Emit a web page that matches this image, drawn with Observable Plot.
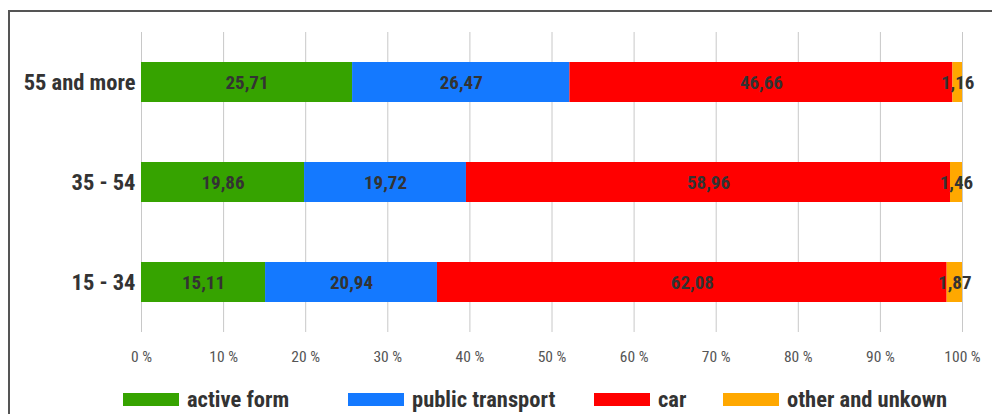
<!DOCTYPE html>
<html><head><meta charset="utf-8">
<script src="https://cdn.jsdelivr.net/npm/d3@7"></script>
<script src="https://cdn.jsdelivr.net/npm/@observablehq/plot@0.6"></script>
<style>
html,body{margin:0;padding:0;background:#fff;}
body{font-family:"Liberation Sans Narrow","Arial Narrow","Roboto Condensed","DejaVu Sans Condensed",sans-serif;width:992px;height:414px;overflow:hidden;position:relative;}
#frame{position:absolute;left:8px;top:10px;width:984px;height:404px;border-left:2px solid #555;border-top:2px solid #555;box-sizing:border-box;}
#chart{position:absolute;left:0;top:0;}
#legend{position:absolute;left:0;top:375px;width:982px;height:24px;}
.item{position:absolute;top:0;display:flex;align-items:center;height:24px;font-weight:bold;font-size:22.5px;color:#333;white-space:nowrap;}
.sw{display:inline-block;width:56px;height:13px;margin-right:8px;}
</style></head><body>
<div id="frame"><div id="chart"></div><div id="legend"></div></div>
<script>
const groups = ["55 and more", "35 - 54", "15 - 34"];
const modes = ["active form", "public transport", "car", "other and unkown"];
const activeForm = [25.71, 19.86, 15.11];
const publicTransport = [26.47, 19.72, 20.94];
const car = [46.66, 58.96, 62.08];
const otherUnknown = [1.16, 1.46, 1.87];
const modeColors = ["#36a300", "#1479ff", "#ff0000", "#ffa800"];
const xTicks = [0, 10, 20, 30, 40, 50, 60, 70, 80, 90, 100];

const series = [activeForm, publicTransport, car, otherUnknown];
const rows = [];
groups.forEach((g, i) => modes.forEach((m, j) => rows.push({group: g, mode: m, value: series[j][i]})));
const fmt = v => v.toFixed(2).replace(".", ",");

const chart = Plot.plot({
  width: 982,
  height: 362,
  marginLeft: 131,
  marginRight: 30,
  marginTop: 20,
  marginBottom: 42,
  style: {fontFamily: "'Liberation Sans Narrow','Arial Narrow','Roboto Condensed','DejaVu Sans Condensed',sans-serif", background: "transparent", overflow: "visible"},
  x: {domain: [0, 100], ticks: xTicks, label: null},
  y: {domain: groups, paddingInner: 0.6, paddingOuter: 0.3, label: null},
  color: {domain: modes, range: modeColors},
  marks: [
    Plot.gridX(xTicks, {stroke: "#c8c8c8", strokeOpacity: 1, strokeWidth: 1}),
    Plot.barX(rows, Plot.stackX({x: "value", y: "group", fill: "mode", z: "mode"})),
    Plot.text(rows, Plot.stackX({x: "value", y: "group", z: "mode", text: d => fmt(d.value), fill: "#333", fontWeight: "bold", fontSize: 19})),
    Plot.axisX(xTicks, {tickSize: 0, tickPadding: 18, tickFormat: d => d + " %", fontSize: 15.5, fill: "#555", anchor: "bottom", label: null}),
    Plot.axisY({tickSize: 0, tickPadding: 6, fontSize: 22.5, fontWeight: "bold", fill: "#333", label: null})
  ]
});
document.getElementById("chart").appendChild(chart);

const legendLeft = [113, 338, 584, 713];
const legend = document.getElementById("legend");
modes.forEach((m, j) => {
  const it = document.createElement("div");
  it.className = "item";
  it.style.left = legendLeft[j] + "px";
  const sw = document.createElement("span");
  sw.className = "sw";
  sw.style.background = modeColors[j];
  it.appendChild(sw);
  it.appendChild(document.createTextNode(m));
  legend.appendChild(it);
});
</script>
</body></html>
